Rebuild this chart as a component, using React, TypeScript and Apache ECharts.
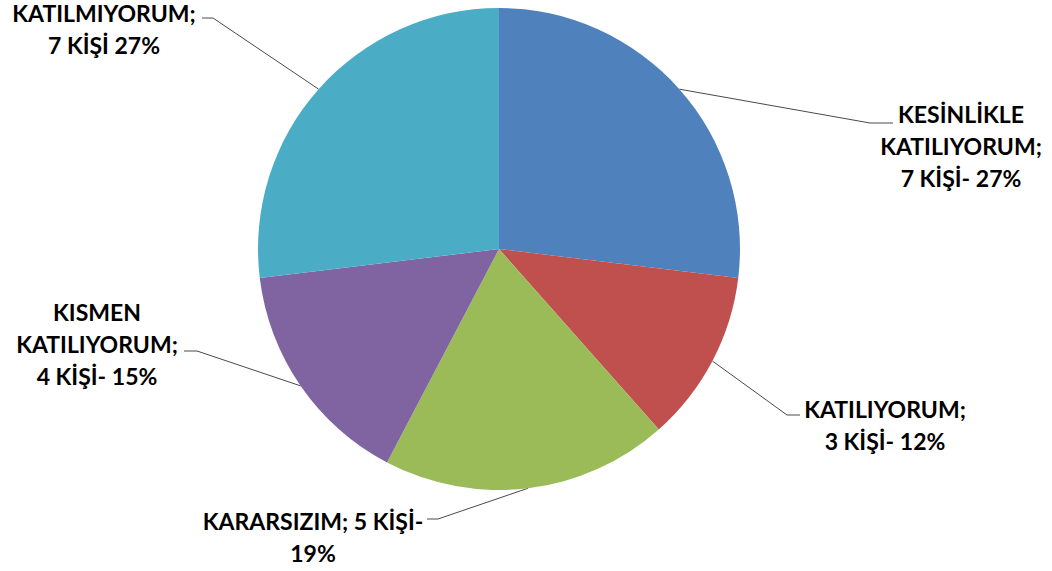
import React, { useEffect, useRef } from "react";
import * as echarts from "echarts";

// ---- data ----
const categories = [
  "KESİNLİKLE KATILIYORUM",
  "KATILIYORUM",
  "KARARSIZIM",
  "KISMEN KATILIYORUM",
  "KATILMIYORUM",
];
const counts = [7, 3, 5, 4, 7];
const labelTexts = [
  "KESİNLİKLE\nKATILIYORUM;\n7 KİŞİ- 27%",
  "KATILIYORUM;\n3 KİŞİ- 12%",
  "KARARSIZIM; 5 KİŞİ-\n19%",
  "KISMEN\nKATILIYORUM;\n4 KİŞİ- 15%",
  "KATILMIYORUM;\n7 KİŞİ 27%",
];
const colors = ["#4F81BD", "#C0504D", "#9BBB59", "#8064A2", "#4BACC6"];

// ---- label placement (layout only) ----
// x,y: centre of label block; ax,ay: leader end; hx: start of short horizontal segment
const LABEL_POS = [
  { x: 961, y: 146, ax: 893, ay: 123, hx: 870 },
  { x: 885, y: 425, ax: 800, ay: 415, hx: 787 },
  { x: 313, y: 537, ax: 427, ay: 519, hx: 438 },
  { x: 97, y: 344, ax: 184, ay: 351, hx: 197 },
  { x: 104, y: 29, ax: 202, ay: 18, hx: 213 },
];

export default function App() {
  const ref = useRef<HTMLDivElement>(null);
  useEffect(() => {
    if (!ref.current) return;
    const chart = echarts.init(ref.current, undefined, { renderer: "svg" });
    chart.setOption({
      animation: false,
      backgroundColor: "#ffffff",
      color: colors,
      series: [
        {
          type: "pie",
          center: [499, 249],
          radius: 241,
          startAngle: 90,
          clockwise: true,
          avoidLabelOverlap: false,
          data: categories.map((name, i) => ({ name, value: counts[i] })),
          itemStyle: { borderWidth: 0 },
          label: {
            show: true,
            position: "outside",
            formatter: (p: any) => labelTexts[p.dataIndex],
            fontFamily: "Lato, 'Open Sans', sans-serif",
            fontWeight: "bold",
            fontSize: 23,
            lineHeight: 32,
            color: "#000000",
            align: "center",
          },
          labelLine: {
            show: true,
            length: 20,
            length2: 10,
            smooth: false,
            lineStyle: { color: "#4a4a4a", width: 1 },
          },
          labelLayout: (params: any) => {
            const p = LABEL_POS[params.dataIndex];
            const pts = params.labelLinePoints;
            const res: any = {
              x: p.x,
              y: p.y,
              align: "center",
              verticalAlign: "middle",
              hideOverlap: false,
            };
            if (pts && pts.length) {
              res.labelLinePoints = [pts[0], [p.hx, p.ay], [p.ax, p.ay]];
            }
            return res;
          },
          emphasis: { disabled: true },
        },
      ],
    });
    return () => chart.dispose();
  }, []);
  return (
    <div
      ref={ref}
      style={{ position: "absolute", left: 0, top: 0, width: 1052, height: 571, background: "#fff" }}
    />
  );
}
